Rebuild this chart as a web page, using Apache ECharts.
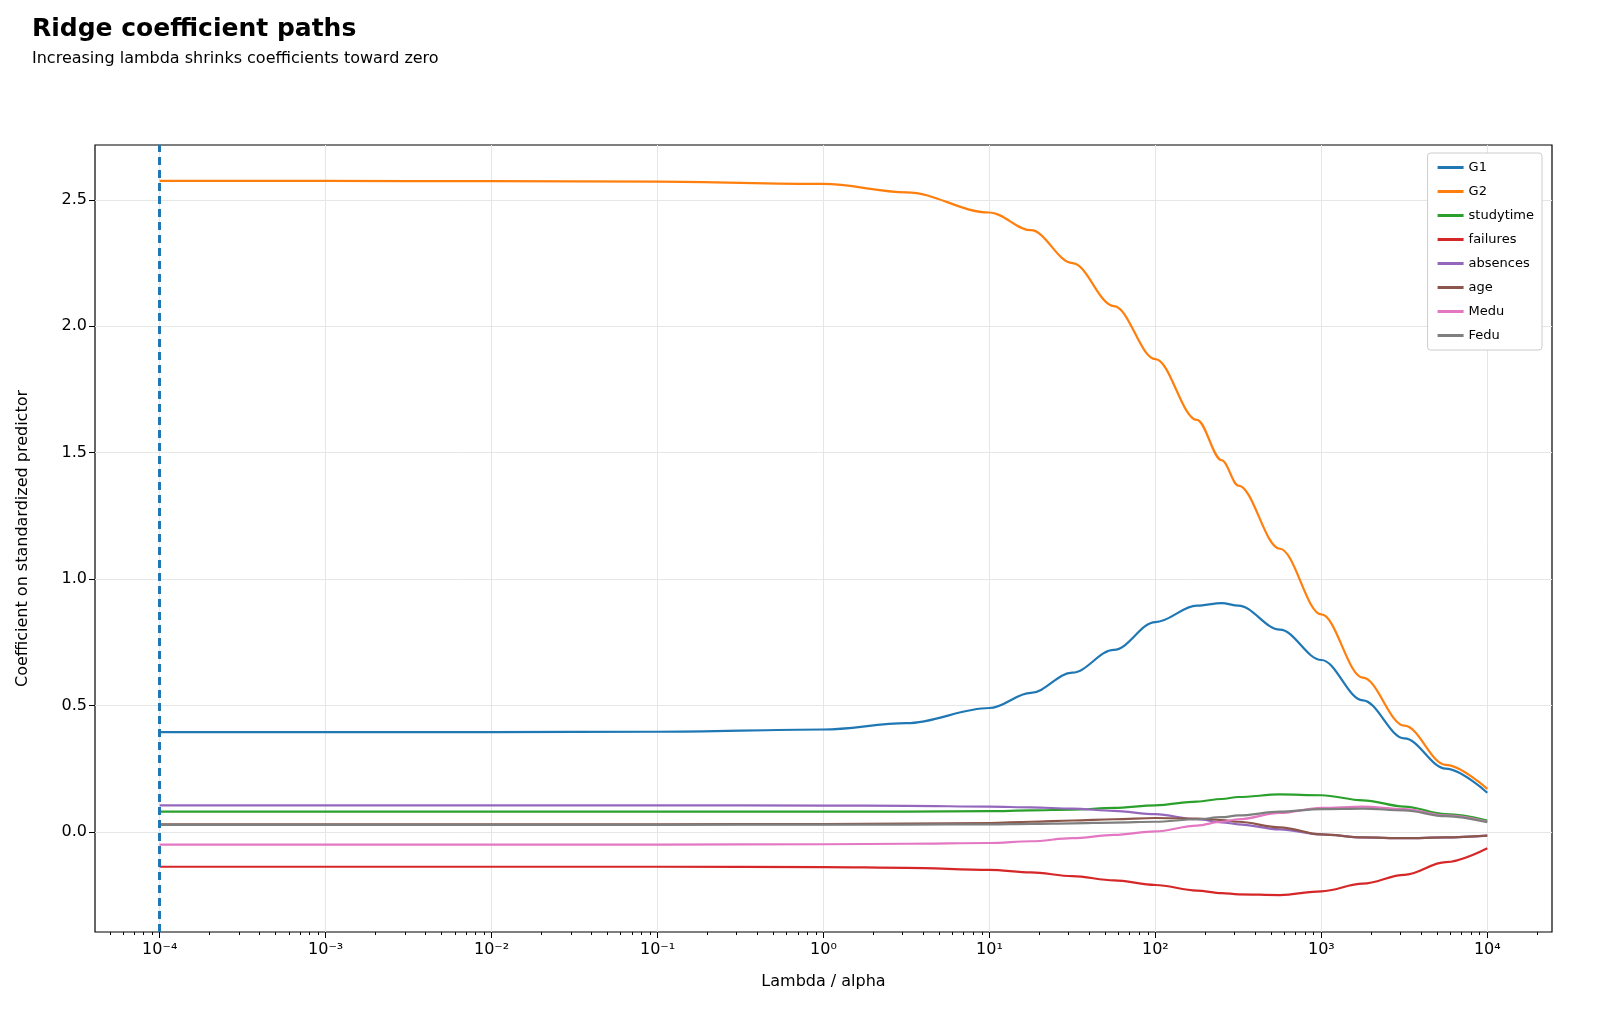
<!DOCTYPE html><html><head><meta charset="utf-8"><script src="https://cdn.jsdelivr.net/npm/echarts@6/dist/echarts.min.js"></script>
<style>html,body{margin:0;padding:0;background:#fff}#c{width:1600px;height:1036px}</style></head><body><div id="c"></div><script>
const seriesNames=['G1','G2','studytime','failures','absences','age','Medu','Fedu'];
const colors=['#1f77b4','#ff7f0e','#2ca02c','#d62728','#9467bd','#8c564b','#e377c2','#7f7f7f'];
// x = log10(lambda)
const logLambda=[-4,-3,-2,-1,0,0.5,1,1.25,1.5,1.75,2,2.25,2.4,2.5,2.75,3,3.25,3.5,3.75,4];
const G1=[0.395,0.395,0.395,0.396,0.405,0.43,0.49,0.55,0.63,0.72,0.83,0.895,0.905,0.895,0.80,0.68,0.52,0.37,0.25,0.155];
const G2=[2.575,2.575,2.574,2.572,2.563,2.53,2.45,2.38,2.25,2.08,1.87,1.63,1.47,1.37,1.12,0.86,0.61,0.42,0.265,0.17];
const studytime=[0.08,0.08,0.08,0.08,0.08,0.08,0.082,0.085,0.088,0.095,0.105,0.12,0.13,0.138,0.148,0.145,0.125,0.1,0.07,0.045];
const failures=[-0.138,-0.138,-0.138,-0.138,-0.139,-0.142,-0.15,-0.16,-0.175,-0.192,-0.21,-0.232,-0.242,-0.247,-0.25,-0.235,-0.205,-0.17,-0.12,-0.065];
const absences=[0.105,0.105,0.105,0.105,0.104,0.103,0.1,0.097,0.092,0.083,0.07,0.05,0.038,0.03,0.01,-0.01,-0.022,-0.025,-0.022,-0.015];
const age=[0.03,0.03,0.03,0.03,0.031,0.033,0.035,0.04,0.045,0.05,0.055,0.053,0.047,0.04,0.018,-0.01,-0.022,-0.025,-0.022,-0.015];
const Medu=[-0.05,-0.05,-0.05,-0.05,-0.049,-0.047,-0.044,-0.037,-0.025,-0.012,0.002,0.025,0.04,0.05,0.075,0.095,0.1,0.09,0.065,0.04];
const Fedu=[0.028,0.028,0.028,0.028,0.029,0.029,0.03,0.032,0.034,0.037,0.04,0.05,0.058,0.065,0.08,0.09,0.092,0.085,0.062,0.038];
const xTicks=[-4,-3,-2,-1,0,1,2,3,4];
const yTicks=[0,0.5,1,1.5,2,2.5];
const all=[G1,G2,studytime,failures,absences,age,Medu,Fedu];
const minor=[];for(let d=-5;d<=4;d++)for(let k=2;k<=9;k++){const v=d+Math.log10(k);if(v>-4.39&&v<4.39)minor.push(v);}
const sup={'-':'\u207B','0':'\u2070','1':'\u00B9','2':'\u00B2','3':'\u00B3','4':'\u2074'};
const fmt=v=>'10'+String(v).split('').map(c=>sup[c]).join('');
const ch=echarts.init(document.getElementById('c'));
const series=seriesNames.map((n,i)=>({name:n,type:'line',smooth:0.35,smoothMonotone:'x',showSymbol:false,symbol:'none',color:colors[i],lineStyle:{width:2.2,color:colors[i]},data:logLambda.map((x,j)=>[x,all[i][j]]),z:3}));
series[0].markLine={silent:true,symbol:'none',label:{show:false},lineStyle:{color:'#1f77b4',type:[8,5],width:3},data:[{xAxis:-4}]};
ch.setOption({animation:false,
title:[{text:'Ridge coefficient paths',left:27,top:12,textStyle:{fontSize:25,fontWeight:'bold',color:'#000',fontFamily:'DejaVu Sans'}},
{text:'Increasing lambda shrinks coefficients toward zero',left:27,top:46,textStyle:{fontSize:16,fontWeight:'normal',color:'#000',fontFamily:'DejaVu Sans'}}],
legend:{orient:'vertical',right:58,top:153,itemWidth:26,itemHeight:3,itemGap:11,icon:'rect',padding:[8,8,8,10],borderColor:'#ccc',borderWidth:1,borderRadius:3,backgroundColor:'#fff',textStyle:{fontSize:13,color:'#000',fontFamily:'DejaVu Sans'},data:seriesNames},
grid:{left:95,right:48,top:145,bottom:104,show:true,borderColor:'#000',borderWidth:1.2},
xAxis:[{type:'value',min:-4.39,max:4.39,name:'Lambda / alpha',nameLocation:'middle',nameGap:42,nameTextStyle:{fontSize:16,color:'#000',fontFamily:'DejaVu Sans'},
axisLine:{show:false,onZero:false},axisTick:{show:true,customValues:xTicks,length:6,lineStyle:{color:'#000'}},
axisLabel:{customValues:xTicks,formatter:fmt,fontSize:16,color:'#000',fontFamily:'DejaVu Sans',margin:10},
splitLine:{show:true,lineStyle:{color:'#e6e6e6'}}},
{type:'value',min:-4.39,max:4.39,position:'bottom',axisLine:{show:false,onZero:false},axisTick:{show:true,customValues:minor,length:3,lineStyle:{color:'#000'}},axisLabel:{show:false},splitLine:{show:false}}],
yAxis:{type:'value',min:-0.396,max:2.717,name:'Coefficient on standardized predictor',nameLocation:'middle',nameGap:64,nameTextStyle:{fontSize:16,color:'#000',fontFamily:'DejaVu Sans'},
axisLine:{show:false,onZero:false},axisTick:{show:true,customValues:yTicks,length:6,lineStyle:{color:'#000'}},
axisLabel:{customValues:yTicks,formatter:v=>v.toFixed(1),fontSize:16,color:'#000',fontFamily:'DejaVu Sans'},
splitLine:{show:true,lineStyle:{color:'#e6e6e6'}}},
series});
</script></body></html>
